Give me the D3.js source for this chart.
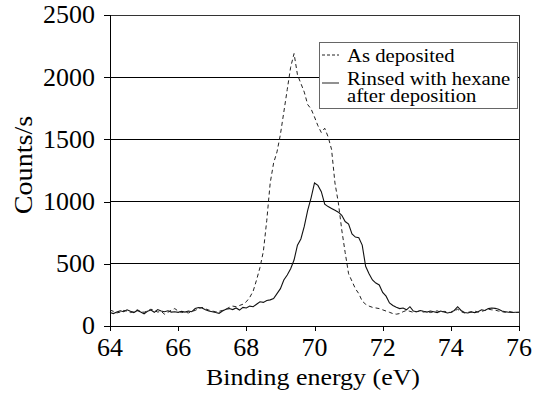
<!DOCTYPE html>
<html><head><meta charset="utf-8">
<script src="https://cdn.jsdelivr.net/npm/d3@7"></script>
</head>
<body style="margin:0">
<svg id="chart" width="535" height="398"></svg>
<script>
// Binding energy grid: 64.0 to 76.0 eV, 0.1 eV steps
const energyStart = 64.0, energyStep = 0.1;
const asDeposited = [
 128,118,105,112,125,120,108,115,130,118,
 110,122,135,125,112,118,95,110,128,140,
 120,108,112,105,118,125,140,150,138,128,
 120,115,118,125,135,150,160,155,165,175,
 195,230,280,370,470,600,850,1150,1310,1400,
 1540,1720,1900,2080,2190,2020,1950,1880,1780,1745,
 1680,1610,1555,1590,1520,1420,1150,990,772,590,
 420,360,300,260,200,175,160,150,145,140,
 130,120,110,100,95,100,115,125,118,110,
 115,120,112,118,108,115,122,110,118,112,
 108,120,135,115,105,110,115,120,112,118,
 125,135,130,128,120,115,110,118,112,108,
 110
];
const rinsed = [
 108,100,112,122,115,130,118,108,125,112,
 98,118,128,110,132,120,115,122,112,115,
 110,118,112,120,115,140,148,145,130,120,
 115,108,102,120,135,140,132,145,128,150,
 145,160,155,175,195,190,205,210,220,260,
 300,370,410,460,530,650,700,800,930,1030,
 1150,1130,1080,980,960,945,930,915,890,840,
 820,740,715,710,650,480,420,370,345,330,
 270,240,185,165,150,140,145,130,155,120,
 115,125,118,112,120,115,108,120,112,105,
 110,125,155,125,108,105,112,108,115,130,
 125,140,145,142,135,120,115,110,108,110,
 110
];
const xTicks = [64,66,68,70,72,74,76];
const yTicks = [0,500,1000,1500,2000,2500];
const seriesNames = ["As deposited", "Rinsed with hexane|after deposition"];

const FONT = '"Liberation Serif", monospace';
const BASE = 16;
const ctx = document.createElement("canvas").getContext("2d");
ctx.font = `${BASE}px ${FONT}`; ctx.measureText("Binding energy 0123456789 Counts/s");

const energies = asDeposited.map((_, i) => +(energyStart + i * energyStep).toFixed(2));

const svg = d3.select("#chart");
const m = {left:110, right:519, top:15, bottom:326};
const x = d3.scaleLinear().domain([64,76]).range([m.left, m.right]);
const y = d3.scaleLinear().domain([0,2500]).range([m.bottom, m.top]);

// text drawn at a small base size and scaled up
function label(parent, px, py, str, size, anchor, sx, rot) {
  const k = size / BASE;
  const g = parent.append("g")
    .attr("transform", `translate(${px},${py})${rot ? ` rotate(${rot})` : ""} scale(${k*(sx||1)},${k})`);
  return g.append("text").attr("x",0).attr("y",0)
    .attr("font-family", FONT).attr("font-size", BASE)
    .attr("text-anchor", anchor || "start").attr("fill","#000").text(str);
}

// gridlines
svg.append("g").selectAll("line").data(yTicks.filter(d => d > 0 && d < 2500)).join("line")
  .attr("x1", m.left).attr("x2", m.right)
  .attr("y1", d => y(d)).attr("y2", d => y(d))
  .attr("stroke", "#000").attr("stroke-width", 1).attr("shape-rendering","crispEdges");

// frame (top & right)
svg.append("path")
  .attr("d", `M${m.left},${y(2500)}H${m.right}V${m.bottom}`)
  .attr("fill","none").attr("stroke","#333").attr("stroke-width",1).attr("shape-rendering","crispEdges");

// axes (lines and ticks from d3 axes, labels drawn via scales)
const gy = svg.append("g").attr("transform", `translate(${m.left},0)`)
  .call(d3.axisLeft(y).tickValues(yTicks).tickSize(6).tickFormat(""));
gy.select(".domain").attr("stroke","#000").attr("shape-rendering","crispEdges");
gy.selectAll(".tick line").attr("stroke","#000").attr("shape-rendering","crispEdges");
const gx = svg.append("g").attr("transform", `translate(0,${m.bottom})`)
  .call(d3.axisBottom(x).tickValues(xTicks).tickSize(5).tickFormat(""));
gx.select(".domain").attr("stroke","#000").attr("shape-rendering","crispEdges");
gx.selectAll(".tick line").attr("stroke","#000").attr("shape-rendering","crispEdges");

const labels = svg.append("g");
yTicks.forEach(t => label(labels, 95, y(t) + 8.3, String(t), 24.5, "end", 1.06));
xTicks.forEach(t => label(labels, x(t), 356, String(t), 24.5, "middle", 1.06));

// lines
const line = d3.line().x((d,i) => x(energies[i])).y(d => y(d));
svg.append("path").datum(rinsed).attr("d", line)
  .attr("fill","none").attr("stroke","#111").attr("stroke-width",1.1);
svg.append("path").datum(asDeposited).attr("d", line)
  .attr("fill","none").attr("stroke","#222").attr("stroke-width",1)
  .attr("stroke-dasharray","4,3");

// axis titles
label(svg, 313, 385, "Binding energy (eV)", 24, "middle", 1.08);
label(svg, 32, 165, "Counts/s", 26, "middle", 1.08, -90);

// legend
const lg = svg.append("g");
lg.append("rect").attr("x", 319.5).attr("y", 42.5).attr("width", 198).attr("height", 66)
  .attr("fill","#fff").attr("stroke","#666").attr("stroke-width",1);
lg.append("line").attr("x1",322).attr("x2",339).attr("y1",55).attr("y2",55)
  .attr("stroke","#222").attr("stroke-dasharray","3,2");
lg.append("line").attr("x1",322).attr("x2",339).attr("y1",83).attr("y2",83)
  .attr("stroke","#555").attr("stroke-width",1.3);
label(lg, 347, 62, seriesNames[0], 18.5, "start", 1.12);
const parts = seriesNames[1].split("|");
label(lg, 347, 84.5, parts[0], 18.5, "start", 1.12);
label(lg, 347, 102, parts[1], 18.5, "start", 1.12);
</script>
</body></html>
